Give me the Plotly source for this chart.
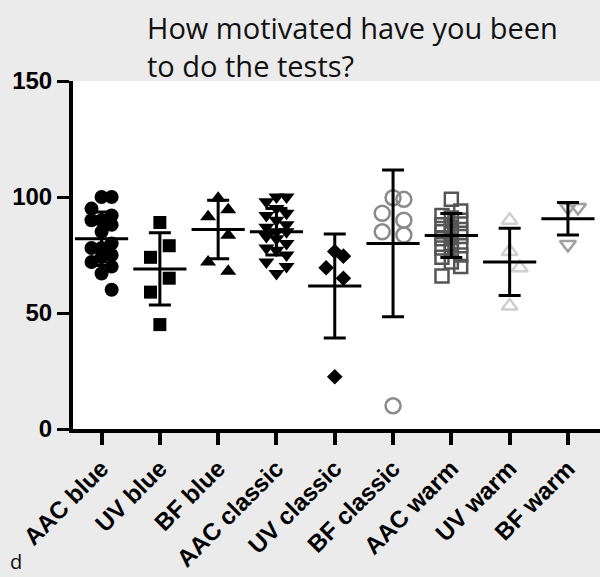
import plotly.graph_objects as go

categories = ["AAC blue", "UV blue", "BF blue", "AAC classic", "UV classic",
              "BF classic", "AAC warm", "UV warm", "BF warm"]

aac_blue = [100, 100, 95, 92, 90, 90, 88, 85, 80, 78, 78, 75, 74, 72, 70, 67, 60]
uv_blue = [89, 79, 74, 65, 59, 45]
bf_blue = [99.5, 94.5, 91.5, 83.5, 72, 68]
aac_classic = [100, 100, 98, 95, 93, 92, 90, 88, 87, 85, 85, 83, 82, 80, 78, 77, 75, 72, 70, 67]
uv_classic = [76.5, 74.5, 69.5, 65, 22.5]
bf_classic = [99.7, 99, 93, 90, 85, 83.6, 10]
aac_warm = [99, 94, 92, 91, 90, 88, 87, 86, 85, 84, 83, 82, 80, 79,
            78, 77, 75, 74, 72, 70, 66]
uv_warm = [90, 76.5, 69.5, 53]
bf_warm = [95.5, 95.5, 79.5]

means = [82, 69, 86, 85, 61.6, 80, 83.4, 72, 90.6]
sds = [11.5, 15.6, 12.6, 10, 22.4, 31.6, 9.5, 14.5, 7]

series = [aac_blue, uv_blue, bf_blue, aac_classic, uv_classic,
          bf_classic, aac_warm, uv_warm, bf_warm]

styles = [
    dict(symbol="circle", size=14, color="black", lw=0),
    dict(symbol="square", size=13, color="black", lw=0),
    dict(symbol="triangle-up", size=14, color="black", lw=0),
    dict(symbol="triangle-down", size=14, color="black", lw=0),
    dict(symbol="diamond", size=12, color="black", lw=0),
    dict(symbol="circle-open", size=15, color="#8a8a8a", lw=2.5),
    dict(symbol="square-open", size=13, color="#555555", lw=2.5),
    dict(symbol="triangle-up-open", size=14, color="#cfcfcf", lw=2.5),
    dict(symbol="triangle-down-open", size=14, color="#a0a0a0", lw=2.5),
]

W, H = 600, 577
ML, MR, MT, MB = 73, 0, 81, 148
XR = [-0.49, 8.55]
YR = [0, 150]
xpx = (W - ML - MR) / (XR[1] - XR[0])
ypx = (H - MT - MB) / (YR[1] - YR[0])


def swarm(vals, diam, thr=2.1, stepf=0.72):
    """Three-column scatter: spread neighbours to the sides of the centre."""
    placed = []
    offs = [0.0] * len(vals)
    order = sorted(range(len(vals)), key=lambda i: -vals[i])
    s = diam * stepf
    cands = [0.0, s, -s]
    for i in order:
        y = vals[i] * ypx
        best, bestd = None, -1
        chosen = None
        for o in cands:
            d = min([((o - ox) ** 2 + (y - oy) ** 2) ** 0.5 for ox, oy in placed] or [1e9])
            if d >= thr * diam:
                chosen = o
                break
            if d > bestd + 0.5:
                best, bestd = o, d
        if chosen is None:
            chosen = best
        placed.append((chosen, y))
        offs[i] = chosen / xpx
    return offs


fig = go.Figure()
for i, vals in enumerate(series):
    st = styles[i]
    offs = swarm(vals, st["size"])
    xs = [i + o for o in offs]
    fig.add_trace(go.Scatter(
        x=xs, y=vals, mode="markers",
        marker=dict(symbol=st["symbol"], size=st["size"], color=st["color"],
                    line=dict(width=st["lw"], color=st["color"])),
        showlegend=False, hoverinfo="skip"))

fig.add_trace(go.Scatter(
    x=list(range(len(categories))), y=means, mode="markers",
    marker=dict(symbol="line-ew-open", size=38, color="black",
                line=dict(width=3, color="black")),
    error_y=dict(type="data", array=sds, visible=True, color="black",
                 thickness=3, width=11),
    showlegend=False, hoverinfo="skip"))

fig.update_layout(
    width=W, height=H,
    margin=dict(l=ML, r=MR, t=MT, b=MB, pad=0),
    paper_bgcolor="#ebebeb", plot_bgcolor="white",
    font=dict(family="Liberation Sans, Arial", color="black"),
    xaxis=dict(range=XR, tickmode="array", tickvals=list(range(len(categories))),
               ticktext=categories, tickangle=-45,
               tickfont=dict(size=24, weight="bold", family="Liberation Sans, Arial"),
               showline=True, linecolor="black", linewidth=4,
               ticks="outside", ticklen=12, tickwidth=4, tickcolor="black",
               showgrid=False, zeroline=False, automargin=False),
    yaxis=dict(range=YR, tickmode="array", tickvals=[0, 50, 100, 150],
               tickfont=dict(size=24, weight="bold", family="Liberation Sans, Arial"),
               showline=True, linecolor="black", linewidth=4,
               ticks="outside", ticklen=12, tickwidth=3, tickcolor="black",
               showgrid=False, zeroline=False, automargin=False),
    annotations=[
        dict(text="How motivated have you been<br>to do the tests?",
             xref="paper", yref="paper", x=(145 - ML) / (W - ML), y=1.0,
             xanchor="left", yanchor="bottom", align="left", showarrow=False,
             yshift=-6,
             font=dict(size=29, family="Open Sans", color="#111111")),
        dict(text="d", xref="paper", yref="paper", x=-ML / (W - ML) + 8 / (W - ML),
             y=-MB / (H - MT - MB), xanchor="left", yanchor="bottom",
             showarrow=False, font=dict(size=20, family="Open Sans", color="#111111")),
    ],
)

fig.write_html("out.html")
